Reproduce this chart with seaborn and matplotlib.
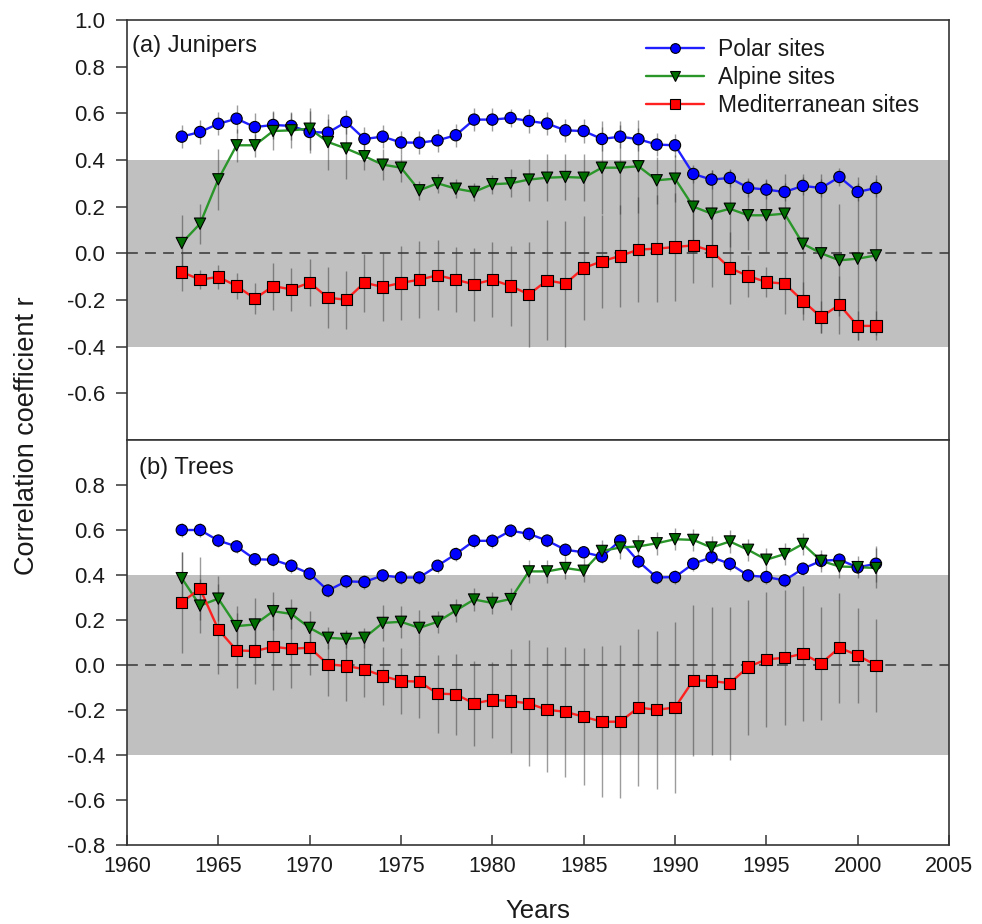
import numpy as np
import pandas as pd
import matplotlib
matplotlib.use("Agg")
import matplotlib.pyplot as plt
from matplotlib.lines import Line2D
import seaborn as sns

# ---------------- data ----------------
years = list(range(1963, 2002))
site_names = ["Polar sites", "Alpine sites", "Mediterranean sites"]

# (a) Junipers: running correlation coefficients and error half-widths
jun_polar = [0.50, 0.52, 0.555, 0.577, 0.541, 0.55, 0.546, 0.52, 0.517, 0.563,
             0.49, 0.50, 0.475, 0.474, 0.484, 0.506, 0.573, 0.573, 0.58, 0.567,
             0.556, 0.527, 0.524, 0.49, 0.50, 0.489, 0.466, 0.463, 0.34, 0.316,
             0.323, 0.281, 0.273, 0.263, 0.289, 0.28, 0.327, 0.263, 0.28]
jun_alpine = [0.044, 0.127, 0.317, 0.463, 0.463, 0.524, 0.527, 0.534, 0.477, 0.449,
              0.416, 0.38, 0.367, 0.27, 0.30, 0.277, 0.263, 0.296, 0.30, 0.316,
              0.324, 0.327, 0.324, 0.367, 0.367, 0.373, 0.313, 0.32, 0.20, 0.17,
              0.191, 0.163, 0.163, 0.17, 0.041, 0.0, -0.03, -0.023, -0.009]
jun_med = [-0.08, -0.113, -0.101, -0.14, -0.194, -0.141, -0.154, -0.126, -0.19, -0.199,
           -0.126, -0.144, -0.127, -0.113, -0.094, -0.113, -0.133, -0.113, -0.14, -0.176,
           -0.116, -0.13, -0.063, -0.034, -0.011, 0.016, 0.02, 0.027, 0.034, 0.01,
           -0.063, -0.097, -0.123, -0.13, -0.204, -0.273, -0.22, -0.311, -0.311]
jun_polar_err = [0.05, 0.05, 0.05, 0.06, 0.06, 0.06, 0.06, 0.09, 0.06, 0.05,
                 0.05, 0.05, 0.05, 0.05, 0.05, 0.05, 0.05, 0.05, 0.04, 0.05,
                 0.05, 0.05, 0.05, 0.05, 0.05, 0.05, 0.05, 0.05, 0.04, 0.04,
                 0.04, 0.04, 0.04, 0.04, 0.04, 0.04, 0.04, 0.04, 0.04]
jun_alpine_err = [0.12, 0.085, 0.13, 0.07, 0.05, 0.08, 0.075, 0.09, 0.12, 0.13,
                  0.06, 0.065, 0.06, 0.04, 0.04, 0.04, 0.04, 0.04, 0.06, 0.09,
                  0.10, 0.10, 0.10, 0.20, 0.20, 0.20, 0.10, 0.10, 0.15, 0.186,
                  0.165, 0.15, 0.157, 0.17, 0.30, 0.34, 0.24, 0.35, 0.343]
jun_med_err = [0.08, 0.04, 0.05, 0.054, 0.068, 0.10, 0.093, 0.10, 0.13, 0.125,
               0.125, 0.147, 0.157, 0.166, 0.15, 0.14, 0.157, 0.16, 0.17, 0.225,
               0.257, 0.27, 0.224, 0.20, 0.22, 0.225, 0.23, 0.23, 0.16, 0.154,
               0.153, 0.09, 0.064, 0.13, 0.083, 0.07, 0.124, 0.062, 0.062]

# (b) Trees
tree_polar = [0.60, 0.60, 0.553, 0.527, 0.47, 0.468, 0.441, 0.406, 0.331, 0.372,
              0.369, 0.398, 0.389, 0.389, 0.441, 0.493, 0.552, 0.552, 0.597, 0.583,
              0.553, 0.512, 0.501, 0.482, 0.553, 0.46, 0.389, 0.391, 0.45, 0.479,
              0.45, 0.398, 0.391, 0.376, 0.428, 0.463, 0.468, 0.434, 0.45]
tree_alpine = [0.386, 0.264, 0.295, 0.173, 0.18, 0.239, 0.227, 0.165, 0.121, 0.116,
               0.121, 0.187, 0.192, 0.165, 0.192, 0.242, 0.291, 0.276, 0.293, 0.416,
               0.416, 0.431, 0.419, 0.507, 0.522, 0.527, 0.541, 0.559, 0.556, 0.522,
               0.549, 0.512, 0.468, 0.493, 0.538, 0.463, 0.438, 0.435, 0.431]
tree_med = [0.279, 0.339, 0.158, 0.065, 0.062, 0.081, 0.072, 0.077, 0.003, -0.004,
            -0.019, -0.049, -0.071, -0.074, -0.127, -0.13, -0.171, -0.155, -0.16, -0.171,
            -0.199, -0.208, -0.23, -0.252, -0.252, -0.189, -0.199, -0.189, -0.068, -0.071,
            -0.081, -0.009, 0.025, 0.032, 0.05, 0.007, 0.077, 0.043, -0.001]
tree_polar_err = [0.03] * 38 + [0.08]
tree_alpine_err = [0.115, 0.12, 0.10, 0.09, 0.12, 0.085, 0.065, 0.075, 0.05, 0.04,
                   0.045, 0.08, 0.07, 0.08, 0.05, 0.05, 0.05, 0.05, 0.05, 0.05,
                   0.05, 0.05, 0.05, 0.05, 0.05, 0.05, 0.05, 0.05, 0.05, 0.05,
                   0.05, 0.05, 0.05, 0.05, 0.05, 0.05, 0.05, 0.05, 0.09]
tree_med_err = [0.224, 0.14, 0.20, 0.165, 0.145, 0.19, 0.174, 0.12, 0.14, 0.155,
                0.125, 0.13, 0.147, 0.16, 0.173, 0.18, 0.19, 0.17, 0.23, 0.28,
                0.277, 0.29, 0.305, 0.335, 0.34, 0.35, 0.35, 0.38, 0.335, 0.33,
                0.34, 0.30, 0.30, 0.30, 0.30, 0.25, 0.245, 0.21, 0.207]

panel_titles = ["(a) Junipers", "(b) Trees"]
x_ticks = list(range(1960, 2006, 5))
y_ticks_top = [-0.6, -0.4, -0.2, 0.0, 0.2, 0.4, 0.6, 0.8, 1.0]
y_ticks_bottom = [-0.8, -0.6, -0.4, -0.2, 0.0, 0.2, 0.4, 0.6, 0.8]

# ---------------- long table ----------------
frames = []
for panel, series in [
    (panel_titles[0], [(jun_polar, jun_polar_err), (jun_alpine, jun_alpine_err), (jun_med, jun_med_err)]),
    (panel_titles[1], [(tree_polar, tree_polar_err), (tree_alpine, tree_alpine_err), (tree_med, tree_med_err)]),
]:
    for name, (vals, errs) in zip(site_names, series):
        frames.append(pd.DataFrame({"year": years, "r": vals, "err": errs,
                                    "site": name, "panel": panel}))
df = pd.concat(frames, ignore_index=True)

# ---------------- style ----------------
sns.set_theme(style="ticks")
plt.rcParams["font.family"] = ["Liberation Sans", "DejaVu Sans"]
plt.rcParams["axes.unicode_minus"] = False

line_colors = {"Polar sites": "#1f1fff", "Alpine sites": "#2a962a", "Mediterranean sites": "#ff2020"}
face_colors = {"Polar sites": "#0000ff", "Alpine sites": "#006e00", "Mediterranean sites": "#ff0000"}
markers = {"Polar sites": "o", "Alpine sites": "v", "Mediterranean sites": "s"}

fig = plt.figure(figsize=(9.82, 9.24), dpi=100)
ax_top = fig.add_axes([0.1293, 0.5238, 0.8371, 0.4546])
ax_bot = fig.add_axes([0.1293, 0.0855, 0.8371, 0.4383])

spine_color = "#353535"
for ax, title in zip([ax_top, ax_bot], panel_titles):
    sub = df[df["panel"] == title]
    ax.axhspan(-0.4, 0.4, color="#c0c0c0", lw=0, zorder=0)
    ax.axhline(0.0, color="#4a4a4a", lw=1.3, ls=(0, (6, 4)), zorder=1)
    for name in site_names:
        s = sub[sub["site"] == name]
        ax.errorbar(s["year"], s["r"], yerr=s["err"], fmt="none",
                    ecolor="#3a3a3a", alpha=0.5, elinewidth=1.0, capsize=0, zorder=2)
    sns.lineplot(data=sub, x="year", y="r", hue="site", hue_order=site_names,
                 palette=line_colors, estimator=None, sort=False, lw=1.7,
                 legend=False, ax=ax, zorder=3)
    sns.scatterplot(data=sub, x="year", y="r", hue="site", style="site",
                    hue_order=site_names, style_order=site_names,
                    palette=face_colors, markers=markers, s=66,
                    edgecolor="black", linewidth=0.8, legend=False, ax=ax, zorder=4)
    ax.set_xlim(1960, 2005)
    ax.set_ylim(-0.8, 1.0)
    ax.set_xlabel("")
    ax.set_ylabel("")
    for sp in ax.spines.values():
        sp.set_visible(True)
        sp.set_color(spine_color)
        sp.set_linewidth(1.2)
    ax.tick_params(axis="y", direction="out", length=8, width=1.1, color=spine_color,
                   pad=8, labelsize=16, labelcolor="#1a1a1a")

ax_top.set_yticks(y_ticks_top)
ax_top.set_yticklabels([f"{v:.1f}" for v in y_ticks_top])
ax_top.tick_params(axis="x", bottom=False, labelbottom=False)
ax_top.text(0.006, 0.924, panel_titles[0], transform=ax_top.transAxes,
            fontsize=17, ha="left", va="baseline", color="#1a1a1a")

ax_bot.set_yticks(y_ticks_bottom)
ax_bot.set_yticklabels([f"{v:.1f}" for v in y_ticks_bottom])
ax_bot.set_xticks(x_ticks)
ax_bot.set_xticklabels([str(v) for v in x_ticks])
ax_bot.tick_params(axis="x", direction="in", length=7, width=1.1, color=spine_color,
                   pad=8, labelsize=15.5, labelcolor="#1a1a1a")
ax_bot.text(0.0146, 0.916, panel_titles[1], transform=ax_bot.transAxes,
            fontsize=17, ha="left", va="baseline", color="#1a1a1a")

# legend
handles = [Line2D([], [], color=line_colors[n], lw=1.7, marker=markers[n],
                  markerfacecolor=face_colors[n], markeredgecolor="black",
                  markeredgewidth=0.8, markersize=7)
           for n in site_names]
ax_top.legend(handles, site_names, loc="upper left", bbox_to_anchor=(0.632, 0.958),
              frameon=False, fontsize=16.5, handlelength=2.5, handletextpad=0.6,
              labelspacing=0.22, borderpad=0, borderaxespad=0, labelcolor="#1a1a1a")

fig.text(0.027, 0.528, "Correlation coefficient r", rotation=90, ha="center",
         va="center", fontsize=19.5, color="#1a1a1a")
fig.text(0.548, 0.014, "Years", ha="center", va="center", fontsize=18.5, color="#1a1a1a")

fig.savefig("out.png", dpi=100)
